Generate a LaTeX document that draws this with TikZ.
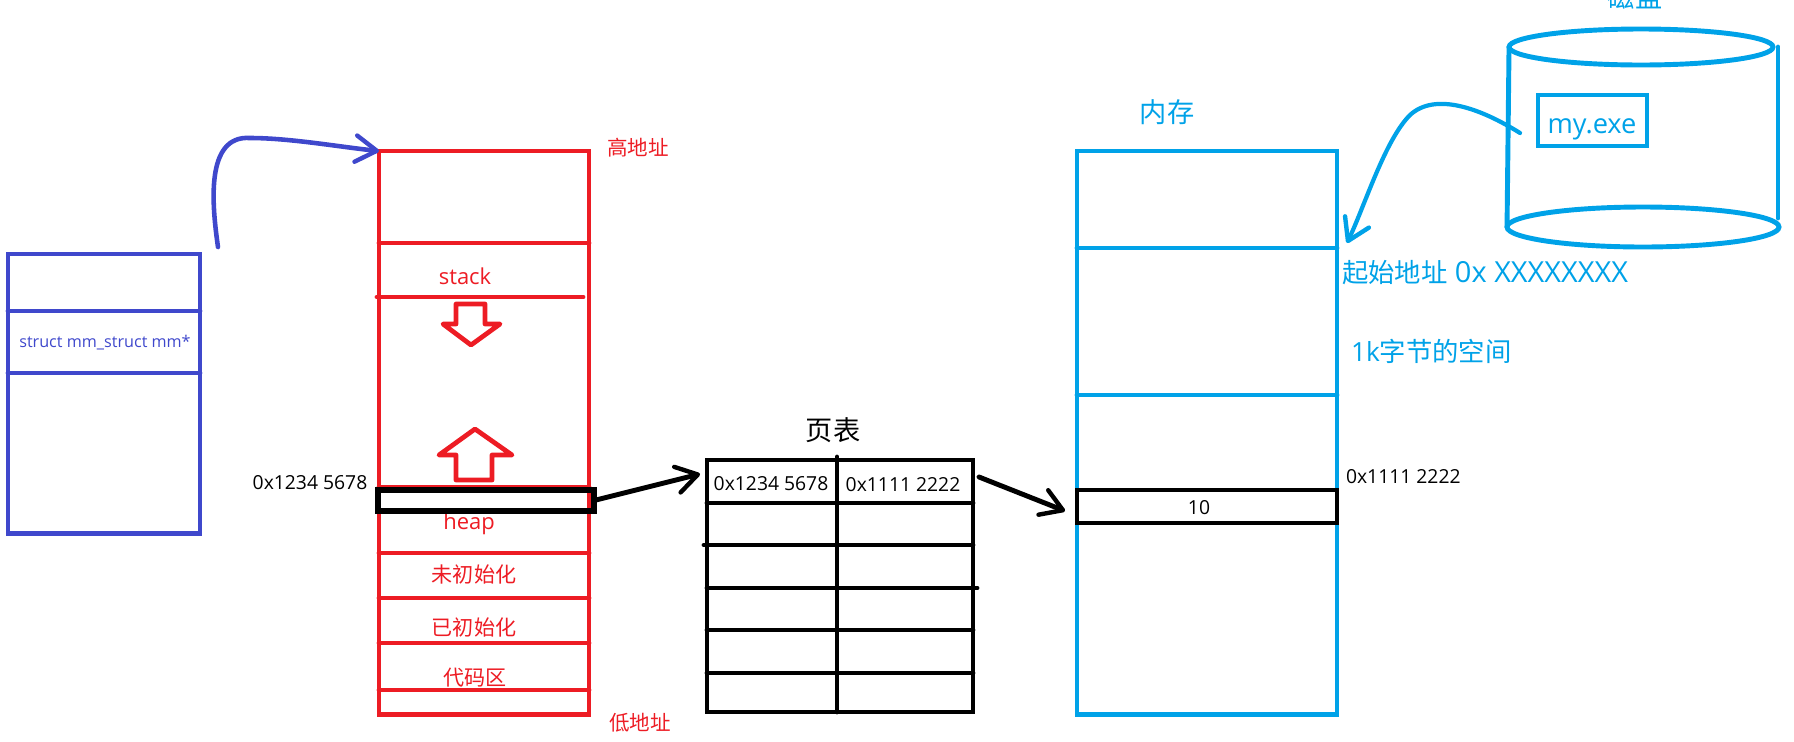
\documentclass[tikz,border=0pt]{standalone}
\usepackage{fontspec}
\setmainfont{Open Sans}
\newfontfamily\cjk{Noto Sans CJK SC}
\usetikzlibrary{arrows.meta,shapes.geometric}
\definecolor{vmred}{HTML}{ED1C24}
\definecolor{mmblue}{HTML}{3F48CC}
\definecolor{ramcyan}{HTML}{00A2E8}
\newcommand{\sz}[1]{\fontsize{#1}{#1}\selectfont}
\begin{document}
\begin{tikzpicture}[x=0.02cm,y=-0.02cm,line cap=round,line join=miter,
		>={Straight Barb[length=12pt,width=15pt,line width=2.5pt,round]},
		block/.style={draw,rectangle,inner sep=0pt,outer sep=0pt,anchor=north west,line width=2.8pt},
		disc/.style={draw=ramcyan,ellipse,inner sep=0pt,outer sep=0pt,line width=2.8pt},
		rule/.style={line width=2.8pt},
		txt/.style={inner sep=0pt,outer sep=0pt,text=#1},
		txt/.default=black]
	\useasboundingbox (0,0) rectangle (1794,741);
	
	% task_struct
	\node[block,draw=mmblue,minimum width=3.84cm,minimum height=5.6cm] (task) at (8,254) {};
	\foreach \Y in {311,373}
	{\draw[rule,mmblue] (8,\Y) -- (200,\Y);}
	\node[txt=mmblue,font=\sz{9.2}] (mmtext) at (105,343) {struct mm\_struct mm*};
	
	% virtual address space
	\node[block,draw=vmred,minimum width=4.2cm,minimum height=11.28cm] (vspace) at (379,151) {};
	\foreach \Y in {243,487,553,598,643,690}
	{\draw[rule,vmred] (379,\Y) -- (589,\Y);}
	\draw[rule,vmred] (377,297) -- (583,297);
	\draw[vmred,line width=2.7pt,line join=round] (456,304) -- (485,304) -- (485,324) -- (500,324) -- (471,345) -- (443,324) -- (456,324) -- cycle;
	\draw[vmred,line width=2.7pt,line join=round] (475,429) -- (512,455) -- (492,455) -- (492,480) -- (456,480) -- (456,455) -- (439,455) -- cycle;
	\node[txt=vmred,font=\sz{12.5}] (stack) at (465,276) {stack};
	\node[txt=vmred,font=\sz{12.5}] (heap) at (469,524) {heap};
	\node[txt=vmred,font=\cjk\sz{12}] (bss) at (474,574) {未初始化};
	\node[txt=vmred,font=\cjk\sz{12}] (data) at (474,627) {已初始化};
	\node[txt=vmred,font=\cjk\sz{12}] (code) at (475,678) {代码区};
	\node[txt=vmred,font=\cjk\sz{11.7}] (high) at (638,148) {高地址};
	\node[txt=vmred,font=\cjk\sz{11.7}] (low) at (640,723) {低地址};
	\node[block,draw=black,line width=3.2pt,minimum width=4.32cm,minimum height=0.42cm] (vslot) at (378,490) {};
	\node[txt,font=\sz{11}] (vaddr) at (310,483) {0x1234 5678};
	
	% page table
	\node[block,draw=black,minimum width=5.32cm,minimum height=5.04cm] (ptable) at (707,460) {};
	\draw[rule] (837,457) -- (837,712);
	\foreach \Y/\A/\B in {503/707/973,545/704/973,588/707/977,630/707/973,673/707/973}
	{\draw[rule] (\A,\Y) -- (\B,\Y);}
	\node[txt,font=\cjk\sz{15.5}] (pttitle) at (833,430) {页表};
	\node[txt,font=\sz{11}] (ptva) at (771,484) {0x1234 5678};
	\node[txt,font=\sz{11}] (ptpa) at (903,485) {0x1111 2222};
	
	% physical memory
	\node[block,draw=ramcyan,minimum width=5.2cm,minimum height=11.28cm] (ram) at (1077,151) {};
	\foreach \Y in {248,395}
	{\draw[rule,ramcyan] (1077,\Y) -- (1337,\Y);}
	\node[block,draw=black,minimum width=5.2cm,minimum height=0.66cm] (pslot) at (1077,490) {};
	\node[txt,font=\sz{11}] (pvalue) at (1199,508) {10};
	\node[txt,font=\sz{11},anchor=west] (paddr) at (1346,477) {0x1111 2222};
	\node[txt=ramcyan,font=\cjk\sz{15.5}] (ramtitle) at (1167,112) {内存};
	\node[txt=ramcyan,font=\sz{16.5},anchor=west] (start) at (1342,273) {{\cjk\sz{15}起始地址} 0x XXXXXXXX};
	\node[txt=ramcyan,font=\sz{15},anchor=west] (size) at (1351,351) {1k{\cjk 字节的空间}};
	
	% disk
	\node[disc,minimum width=5.28cm,minimum height=0.72cm] (disktop) at (1641,47) {};
	\node[disc,minimum width=5.44cm,minimum height=0.8cm] (diskbot) at (1643,227) {};
	\draw[rule,ramcyan] (disktop.west) -- (diskbot.west);
	\draw[rule,ramcyan] (1778,47) -- (1778,218);
	\node[txt=ramcyan,font=\cjk\sz{15.5}] (disktitle) at (1635,-3) {磁盘};
	\node[block,draw=ramcyan,minimum width=2.18cm,minimum height=1.02cm] (exe) at (1538,95) {};
	\node[txt=ramcyan,font=\sz{15.5}] (exetext) at (1592,129) {my.exe};
	
	% links
	\coordinate (mmout) at (218,247);
	\coordinate (ptin) at (700,474);
	\coordinate (ptout) at (979,477);
	\coordinate (slotin) at (1065,511);
	\coordinate (exeout) at (1520,133);
	\coordinate (loadat) at (1347,243);
	\draw[->,mmblue,line width=2.6pt] (mmout) .. controls (212,205) and (205,135) .. (250,138) .. controls (290,138) and (340,147) .. (vspace.north west);
	\draw[->,line width=2.8pt] (vslot.east) -- (ptin);
	\draw[->,line width=2.8pt] (ptout) -- (slotin);
	\draw[->,ramcyan,line width=2.4pt] (exeout) .. controls (1480,108) and (1435,92) .. (1410,115) .. controls (1385,140) and (1365,205) .. (loadat);
\end{tikzpicture}
\end{document}
